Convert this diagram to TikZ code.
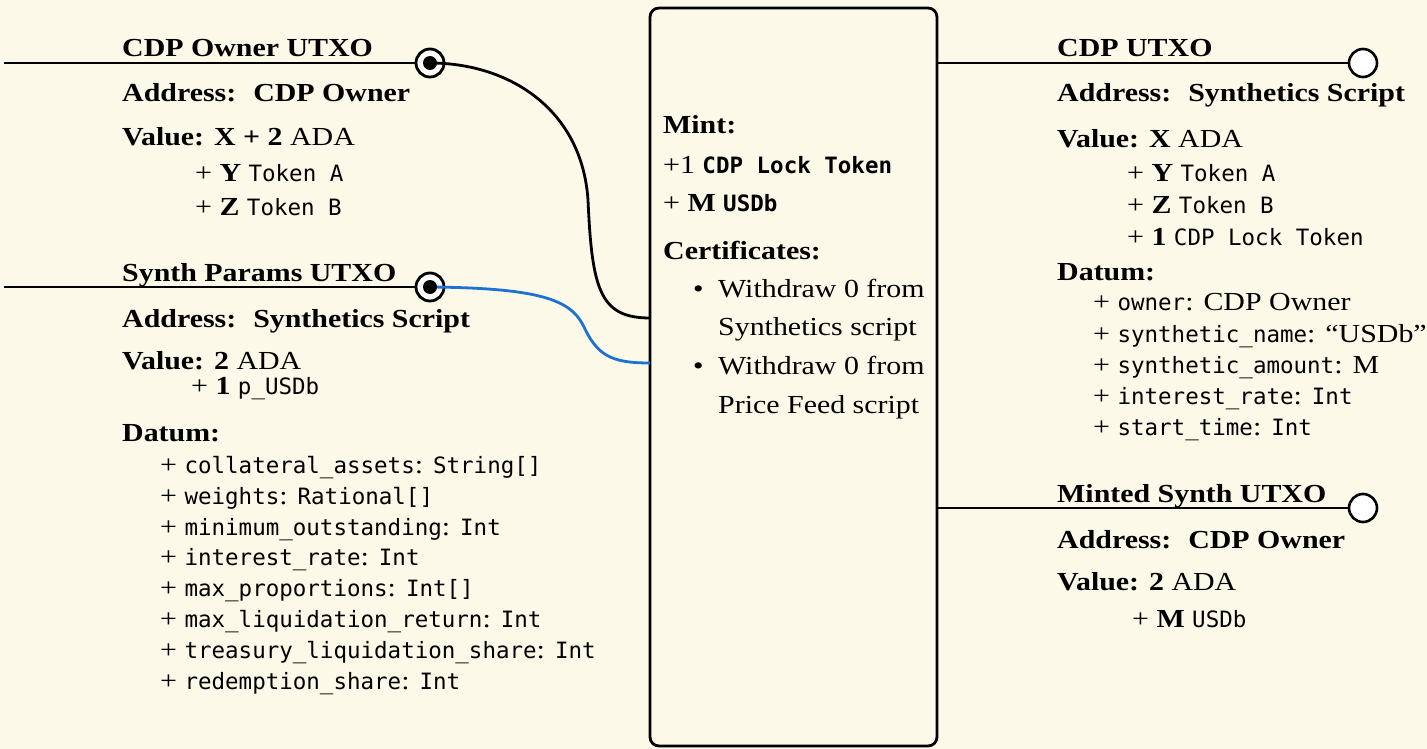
\documentclass[tikz,border=0pt]{standalone}
\usepackage{fontspec}
\setmainfont{Liberation Serif}[FakeStretch=1.15]
\setmonofont{DejaVu Sans Mono}
\definecolor{paper}{RGB}{252,249,232}
\definecolor{linkblue}{RGB}{28,114,210}
\newcommand{\mono}[1]{{\fontsize{22.5}{27}\selectfont\ttfamily #1}}
\newcommand{\monob}[1]{{\fontsize{22.5}{27}\selectfont\ttfamily\bfseries #1}}
\begin{document}
\begin{tikzpicture}[x=1pt,y=-1pt,
  wire/.style={line width=2.8pt},
  txt/.style={anchor=base west,inner sep=0pt,font=\fontsize{26}{31}\selectfont},
  inport/.style={circle,draw,line width=2.8pt,fill=white,minimum size=28pt,inner sep=0pt},
  outport/.style={circle,draw,line width=2.6pt,fill=white,minimum size=28pt,inner sep=0pt},
  dot/.style={circle,fill=black,minimum size=14pt,inner sep=0pt},
  txbox/.style={draw,line width=2.8pt,rounded corners=9pt}]
\useasboundingbox (0,0) rectangle (1427,749);
\fill[paper] (0,0) rectangle (1427,749);

% transaction body
\draw[txbox] (650,8) rectangle (937,746);
\coordinate (tx-in1) at (650,318);
\coordinate (tx-in2) at (650,363);
\coordinate (tx-out1) at (937,63);
\coordinate (tx-out2) at (937,508);

% input: CDP owner UTXO
\coordinate (in1-start) at (4,63);
\node[inport] (in1) at (430,63) {};
\draw[wire] (in1-start) -- (in1.west);
\draw[wire] (in1.center) .. controls (510,63) and (582,110) .. (588,200)
  .. controls (592,290) and (600,318) .. (tx-in1);
\node[dot] at (in1) {};

% input: synth params UTXO
\coordinate (in2-start) at (4,287);
\node[inport] (in2) at (430,287) {};
\draw[wire] (in2-start) -- (in2.west);
\draw[wire,linkblue] (in2.center) .. controls (540,288) and (570,300) .. (583,325)
  .. controls (597,355) and (610,363) .. (tx-in2);
\node[dot] at (in2) {};

% outputs
\node[outport] (out1) at (1363,63) {};
\draw[wire] (tx-out1) -- (out1.west);
\node[outport] (out2) at (1363,508) {};
\draw[wire] (tx-out2) -- (out2.west);

% CDP owner UTXO text
\node[txt] (t1) at (122,57) {\bfseries CDP Owner UTXO};
\node[txt] (t2) at (122,102) {\bfseries Address:\hspace{17pt}CDP Owner};
\node[txt] (t3) at (122,146) {\textbf{Value: X + 2} ADA};
\node[txt] (t4) at (195,182) {+ \textbf{Y} \mono{Token A}};
\node[txt] (t5) at (195,215) {+ \textbf{Z} \mono{Token B}};

% synth params UTXO text
\node[txt] (s1) at (122,281) {\bfseries Synth Params UTXO};
\node[txt] (s2) at (122,327) {\bfseries Address:\hspace{17pt}Synthetics Script};
\node[txt] (s3) at (122,369) {\textbf{Value: 2} ADA};
\node[txt] (s4) at (191,394) {+ \textbf{1} \mono{p\_USDb}};
\node[txt] (s5) at (122,441) {\bfseries Datum:};
\node[txt] (d1) at (160,473) {+ \mono{collateral\_assets}: \mono{String[]}};
\node[txt] (d2) at (160,504) {+ \mono{weights}: \mono{Rational[]}};
\node[txt] (d3) at (160,535) {+ \mono{minimum\_outstanding}: \mono{Int}};
\node[txt] (d4) at (160,565) {+ \mono{interest\_rate}: \mono{Int}};
\node[txt] (d5) at (160,596) {+ \mono{max\_proportions}: \mono{Int[]}};
\node[txt] (d6) at (160,627) {+ \mono{max\_liquidation\_return}: \mono{Int}};
\node[txt] (d7) at (160,658) {+ \mono{treasury\_liquidation\_share}: \mono{Int}};
\node[txt] (d8) at (160,689) {+ \mono{redemption\_share}: \mono{Int}};

% transaction body text
\node[txt] (m1) at (663,134) {\bfseries Mint:};
\node[txt] (m2) at (663,173) {+1 \monob{CDP Lock Token}};
\node[txt] (m3) at (663,211) {+ \textbf{M} \monob{USDb}};
\node[txt] (m4) at (663,259) {\bfseries Certificates:};
\node[txt] (b1) at (693,297) {\textbullet};
\node[txt] (c1) at (718,297) {Withdraw 0 from};
\node[txt] (c2) at (718,335) {Synthetics script};
\node[txt] (b2) at (693,374) {\textbullet};
\node[txt] (c3) at (718,374) {Withdraw 0 from};
\node[txt] (c4) at (718,413) {Price Feed script};

% CDP UTXO text
\node[txt] (o1) at (1057,57) {\bfseries CDP UTXO};
\node[txt] (o2) at (1057,102) {\bfseries Address:\hspace{17pt}Synthetics Script};
\node[txt] (o3) at (1057,147) {\textbf{Value: X} ADA};
\node[txt] (o4) at (1127,182) {+ \textbf{Y} \mono{Token A}};
\node[txt] (o5) at (1127,213) {+ \textbf{Z} \mono{Token B}};
\node[txt] (o6) at (1127,245) {+ \textbf{1} \mono{CDP Lock Token}};
\node[txt] (o7) at (1057,280) {\bfseries Datum:};
\node[txt] (e1) at (1093,310) {+ \mono{owner}: CDP Owner};
\node[txt] (e2) at (1093,342) {+ \mono{synthetic\_name}: “USDb”};
\node[txt] (e3) at (1093,373) {+ \mono{synthetic\_amount}: M};
\node[txt] (e4) at (1093,404) {+ \mono{interest\_rate}: \mono{Int}};
\node[txt] (e5) at (1093,435) {+ \mono{start\_time}: \mono{Int}};

% minted synth UTXO text
\node[txt] (n1) at (1057,502) {\bfseries Minted Synth UTXO};
\node[txt] (n2) at (1057,548) {\bfseries Address:\hspace{17pt}CDP Owner};
\node[txt] (n3) at (1057,590) {\textbf{Value: 2} ADA};
\node[txt] (n4) at (1132,627) {+ \textbf{M} \mono{USDb}};
\end{tikzpicture}
\end{document}
